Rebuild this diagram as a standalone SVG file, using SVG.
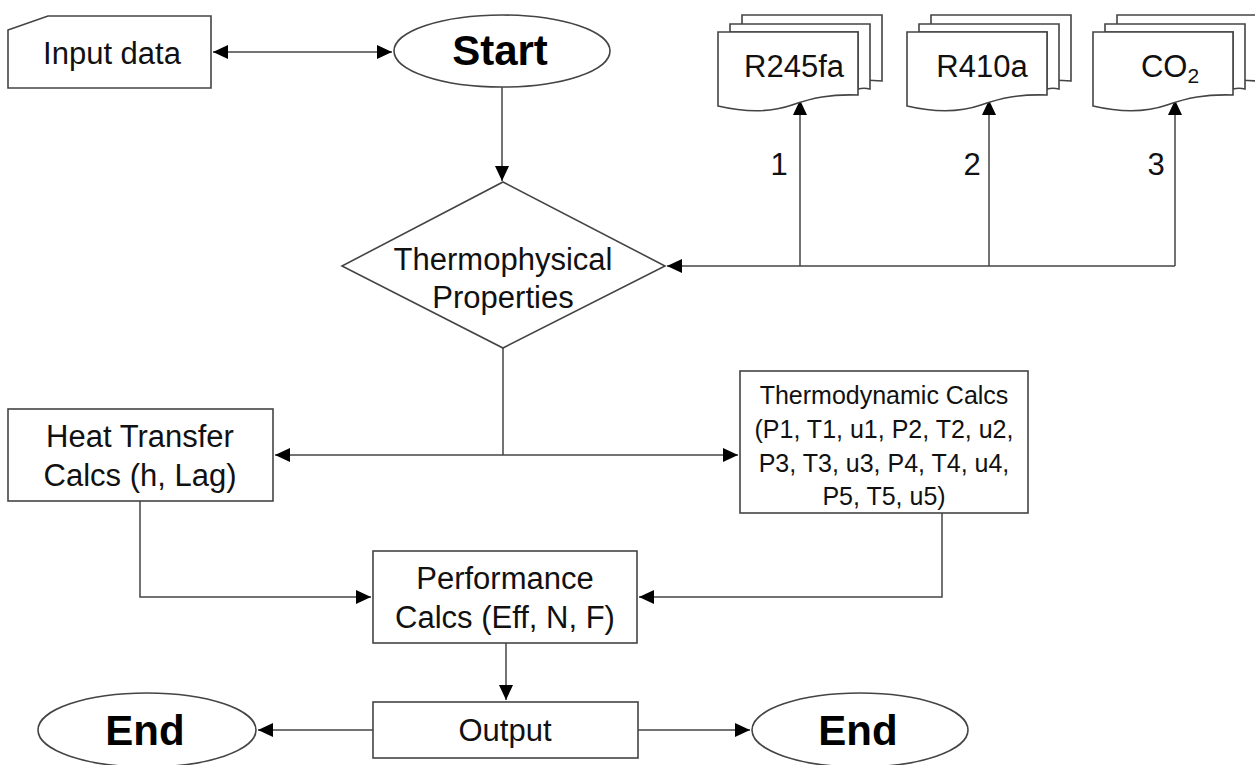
<svg xmlns="http://www.w3.org/2000/svg" width="1255" height="765" viewBox="0 0 1255 765">
<style>
.shape{fill:#fff;stroke:#444;stroke-width:1.6}
.conn{fill:none;stroke:#444;stroke-width:1.5}
.t{font-family:"Liberation Sans",Arial,sans-serif;font-size:31px;fill:#111;text-anchor:middle}
.s{font-size:25px}
.b{font-family:"Liberation Sans",Arial,sans-serif;font-size:42px;font-weight:bold;fill:#000;text-anchor:middle}
</style>
<defs>
<marker id="ah" markerUnits="userSpaceOnUse" markerWidth="16" markerHeight="14" refX="15" refY="7" orient="auto-start-reverse">
<path d="M0,0 L15,7 L0,14 z" fill="#000"/>
</marker>
</defs>
<g id="connectors">
<path class="conn" d="M213,52 H392" marker-start="url(#ah)" marker-end="url(#ah)"/>
<path class="conn" d="M502,87 V181" marker-end="url(#ah)"/>
<path class="conn" d="M1175,266 H667" marker-end="url(#ah)"/>
<path class="conn" d="M800,266 V100" marker-end="url(#ah)"/>
<path class="conn" d="M989,266 V100" marker-end="url(#ah)"/>
<path class="conn" d="M1175,266 V100" marker-end="url(#ah)"/>
<path class="conn" d="M503,348 V455"/>
<path class="conn" d="M275,455 H738" marker-start="url(#ah)" marker-end="url(#ah)"/>
<path class="conn" d="M140,501 V597 H371" marker-end="url(#ah)"/>
<path class="conn" d="M942,513 V597 H639" marker-end="url(#ah)"/>
<path class="conn" d="M506,643 V700" marker-end="url(#ah)"/>
<path class="conn" d="M373,730 H258" marker-end="url(#ah)"/>
<path class="conn" d="M638,730 H750" marker-end="url(#ah)"/>
<text class="t" x="779" y="175">1</text>
<text class="t" x="972" y="175">2</text>
<text class="t" x="1156" y="175">3</text>
</g>
<g id="input">
<path class="shape" d="M8,30 L48,16 H211 V88 H8 Z"/>
<text class="t" x="112" y="64">Input data</text>
</g>
<g id="start">
<ellipse class="shape" cx="502" cy="51" rx="108" ry="36"/>
<text class="b" x="500" y="65">Start</text>
</g>
<g id="r245fa">
<path class="shape" d="M742,15 H882 V81 C870,80 862,80 858,81 V30 H742 Z"/>
<path class="shape" d="M730,24 H870 V89 C866,88 862,88 858,89 V32 H730 Z"/>
<path class="shape" d="M718,32 H858 V95 C830,94 812,98 792,105 C772,112 748,113 718,106 Z"/>
<text class="t" x="794" y="77">R245fa</text>
</g>
<g id="r410a">
<path class="shape" d="M931,15 H1071 V81 C1059,80 1051,80 1047,81 V30 H931 Z"/>
<path class="shape" d="M919,24 H1059 V89 C1055,88 1051,88 1047,89 V32 H919 Z"/>
<path class="shape" d="M907,32 H1047 V95 C1019,94 1001,98 981,105 C961,112 937,113 907,106 Z"/>
<text class="t" x="982" y="77">R410a</text>
</g>
<g id="co2">
<path class="shape" d="M1117,15 H1257 V81 C1245,80 1237,80 1233,81 V30 H1117 Z"/>
<path class="shape" d="M1105,24 H1245 V89 C1241,88 1237,88 1233,89 V32 H1105 Z"/>
<path class="shape" d="M1093,32 H1233 V95 C1205,94 1187,98 1167,105 C1147,112 1123,113 1093,106 Z"/>
<text class="t" x="1170" y="77">CO<tspan font-size="21" dy="6">2</tspan></text>
</g>
<g id="thermophysical">
<path class="shape" d="M503,182 L665,266 L503,348 L342,266 Z"/>
<text class="t" x="503" y="270">Thermophysical</text>
<text class="t" x="503" y="308">Properties</text>
</g>
<g id="heat-transfer">
<rect class="shape" x="8" y="409" width="265" height="92"/>
<text class="t" x="140" y="447">Heat Transfer</text>
<text class="t" x="140" y="486">Calcs (h, Lag)</text>
</g>
<g id="thermodynamic">
<rect class="shape" x="740" y="371" width="288" height="142"/>
<text class="t s" x="884" y="404">Thermodynamic Calcs</text>
<text class="t s" x="884" y="438">(P1, T1, u1, P2, T2, u2,</text>
<text class="t s" x="884" y="472">P3, T3, u3, P4, T4, u4,</text>
<text class="t s" x="884" y="505">P5, T5, u5)</text>
</g>
<g id="performance">
<rect class="shape" x="373" y="551" width="264" height="92"/>
<text class="t" x="505" y="589">Performance</text>
<text class="t" x="505" y="628">Calcs (Eff, N, F)</text>
</g>
<g id="output">
<rect class="shape" x="373" y="702" width="265" height="56"/>
<text class="t" x="505" y="741">Output</text>
</g>
<g id="end-left">
<ellipse class="shape" cx="147" cy="730" rx="109" ry="37"/>
<text class="b" x="145" y="745">End</text>
</g>
<g id="end-right">
<ellipse class="shape" cx="860" cy="730" rx="108" ry="37"/>
<text class="b" x="858" y="745">End</text>
</g>
</svg>
